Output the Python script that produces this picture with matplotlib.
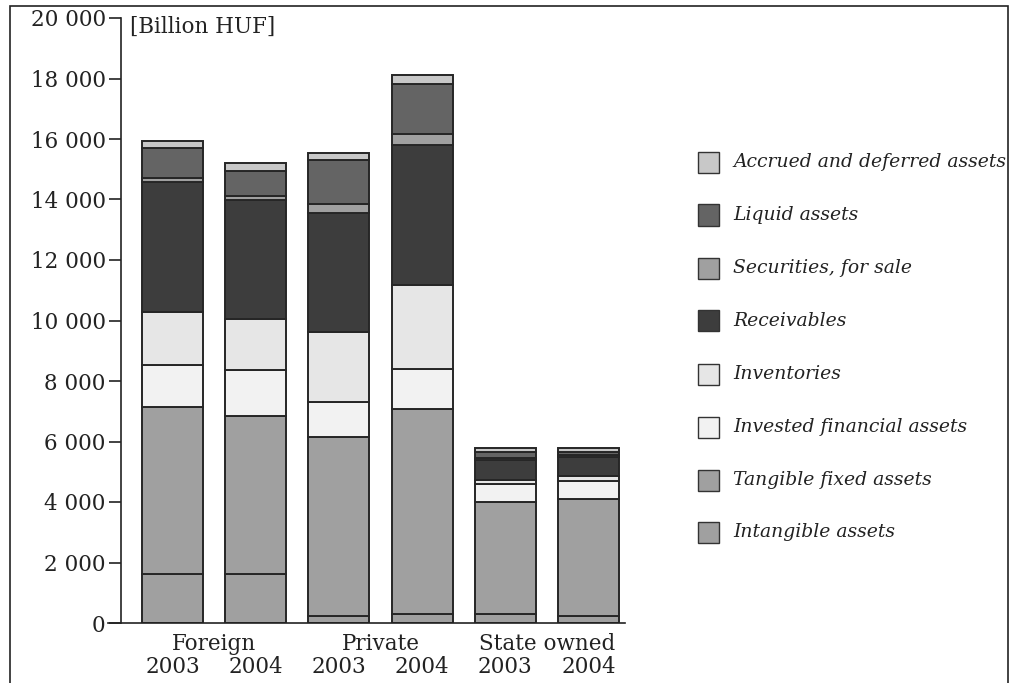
import matplotlib
matplotlib.use("Agg")
import matplotlib.pyplot as plt
from matplotlib.patches import Rectangle
import numpy as np

groups = ["Foreign", "Private", "State owned"]
years = ["2003", "2004", "2003", "2004", "2003", "2004"]

# stacked bottom -> top (Billion HUF)
intangible = [1620, 1630, 220, 290, 300, 240]
tangible = [5520, 5210, 5940, 6790, 3690, 3860]
invested = [1390, 1510, 1160, 1320, 600, 610]
inventories = [1750, 1690, 2290, 2780, 140, 165]
receivables = [4310, 3930, 3930, 4620, 660, 605]
securities = [130, 135, 310, 375, 70, 65]
liquid = [970, 850, 1455, 1640, 200, 120]
accrued = [245, 245, 245, 300, 130, 125]

series_names = ["Intangible assets", "Tangible fixed assets", "Invested financial assets",
                "Inventories", "Receivables", "Securities, for sale", "Liquid assets",
                "Accrued and deferred assets"]
series_vals = [intangible, tangible, invested, inventories, receivables, securities, liquid, accrued]
colors = ["#a0a0a0", "#a0a0a0", "#f2f2f2", "#e6e6e6", "#3d3d3d", "#a0a0a0", "#646464", "#c8c8c8"]

yticks = [0, 2000, 4000, 6000, 8000, 10000, 12000, 14000, 16000, 18000, 20000]
ytick_labels = ["0", "2 000", "4 000", "6 000", "8 000", "10 000", "12 000", "14 000",
                "16 000", "18 000", "20 000"]

W, H = 1009, 683
fig = plt.figure(figsize=(W / 100, H / 100), dpi=100)
FONT = "DejaVu Serif"
plt.rcParams["font.family"] = FONT

ax = fig.add_axes([121 / W, 1 - 623 / H, (625 - 121) / W, (623 - 18) / H])
x = np.arange(len(years))
bottom = np.zeros(len(years))
edge = "#262626"
for name, vals, c in zip(series_names, series_vals, colors):
    ax.bar(x, vals, bottom=bottom, width=0.735, color=c, edgecolor=edge, linewidth=1.4, zorder=3)
    bottom += np.array(vals)

ax.set_xlim(-0.62, 5.44)
ax.set_ylim(0, 20000)
ax.set_yticks(yticks)
ax.set_yticklabels(ytick_labels, fontsize=15.5)
ax.tick_params(axis="y", length=9, width=1.2, pad=2, colors="#222222")
ax.set_xticks([])
for s in ["top", "right"]:
    ax.spines[s].set_visible(False)
ax.spines["left"].set_linewidth(1.2)
ax.spines["bottom"].set_linewidth(1.2)
ax.spines["left"].set_color("#222222")
ax.spines["bottom"].set_color("#222222")
ax.spines["bottom"].set_bounds(-0.62 - 13 / 83, 5.44)
ax.spines["bottom"].set_zorder(4)

# x labels
trans = ax.get_xaxis_transform()
for i, yr in enumerate(years):
    ax.text(x[i], -(667 - 623) / 605, yr, transform=trans, ha="center", va="center",
            fontsize=15.5, color="#222222")
for g, name in enumerate(groups):
    ax.text(2 * g + 0.5, -(644 - 623) / 605, name, transform=trans, ha="center", va="center",
            fontsize=15.5, color="#222222")

fig.text(130 / W, 1 - 27 / H, "[Billion HUF]", ha="left", va="center", fontsize=15.5, color="#222222")

# legend (top -> bottom)
row_y = [162, 215, 268, 321, 374, 427, 480, 532]
for k, (name, c) in enumerate(zip(series_names[::-1], colors[::-1])):
    yc = row_y[k]
    fig.patches.append(Rectangle((698 / W, 1 - (yc + 10.5) / H), 21 / W, 21 / H, transform=fig.transFigure,
                                 facecolor=c, edgecolor="#333333", linewidth=1.0))
    fig.text(733 / W, 1 - yc / H, name, ha="left", va="center", fontsize=13.5, style="italic",
             color="#222222")

# outer frame
fig.patches.append(Rectangle((10 / W, -0.05), (1008 - 10) / W, 1.05 - 6 / H, transform=fig.transFigure,
                             facecolor="none", edgecolor="#222222", linewidth=1.2))

fig.savefig("out.png", dpi=100)
